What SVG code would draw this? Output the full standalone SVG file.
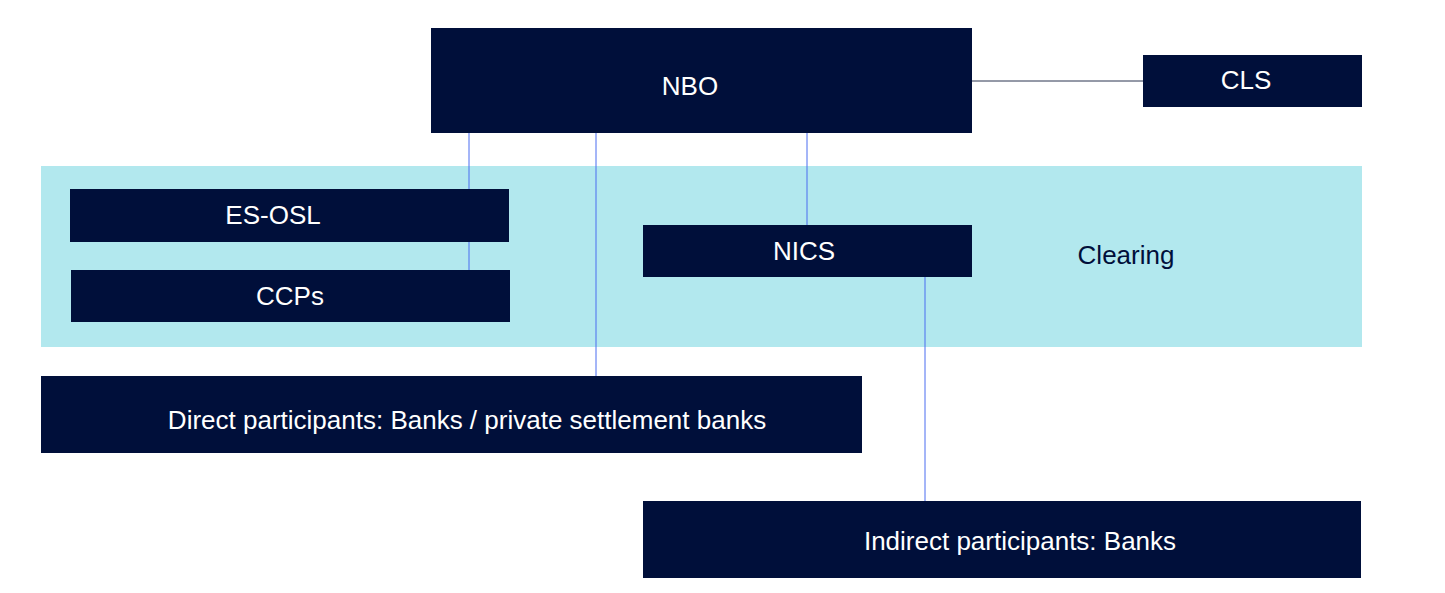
<svg xmlns="http://www.w3.org/2000/svg" width="1445" height="593" viewBox="0 0 1445 593">
<style>
.n{fill:#000f3a}
.t{fill:#fff;font-family:"Liberation Sans",Arial,sans-serif;font-size:26px;text-anchor:middle;dominant-baseline:central}
.c{stroke:#4a6cf0;stroke-width:1;fill:none}
</style>
<rect width="1445" height="593" fill="#fff"/>
<rect x="41" y="166" width="1321" height="181" fill="#b2e8ee"/>
<text x="1126" y="255" style="font-family:'Liberation Sans',Arial,sans-serif;font-size:26px;text-anchor:middle;dominant-baseline:central;fill:#000f3a">Clearing</text>
<g id="connectors">
<line x1="972" y1="81" x2="1143" y2="81" stroke="#2a3550" stroke-width="1"/>
<line class="c" x1="469" y1="133" x2="469" y2="189"/>
<line class="c" x1="469" y1="242" x2="469" y2="270"/>
<line class="c" x1="596" y1="133" x2="596" y2="376"/>
<line class="c" x1="807" y1="133" x2="807" y2="225"/>
<line class="c" x1="925" y1="277" x2="925" y2="501"/>
</g>
<g id="nbo"><rect class="n" x="431" y="28" width="541" height="105"/><text class="t" x="690" y="86">NBO</text></g>
<g id="cls"><rect class="n" x="1143" y="55" width="219" height="52"/><text class="t" x="1246" y="80">CLS</text></g>
<g id="esosl"><rect class="n" x="70" y="189" width="439" height="53"/><text class="t" x="273" y="215">ES-OSL</text></g>
<g id="ccps"><rect class="n" x="71" y="270" width="439" height="52"/><text class="t" x="290" y="296">CCPs</text></g>
<g id="nics"><rect class="n" x="643" y="225" width="329" height="52"/><text class="t" x="804" y="251">NICS</text></g>
<g id="direct"><rect class="n" x="41" y="376" width="821" height="77"/><text class="t" x="467" y="420">Direct participants: Banks / private settlement banks</text></g>
<g id="indirect"><rect class="n" x="643" y="501" width="718" height="77"/><text class="t" x="1020" y="541">Indirect participants: Banks</text></g>
</svg>
